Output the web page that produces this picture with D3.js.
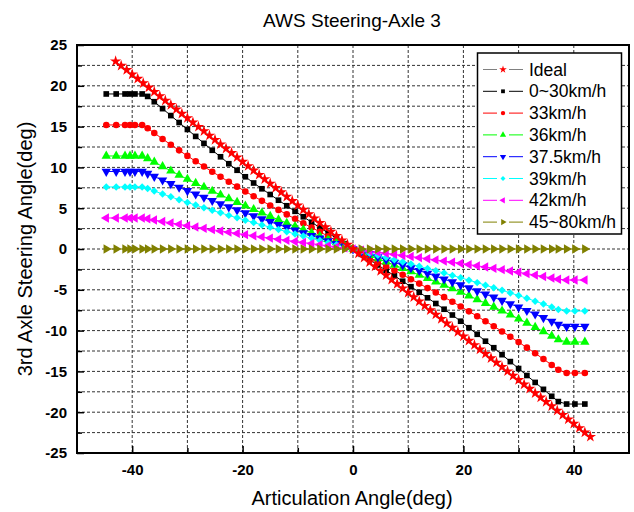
<!DOCTYPE html>
<html>
<head>
<meta charset="utf-8">
<script src="https://cdnjs.cloudflare.com/ajax/libs/d3/7.8.5/d3.min.js"></script>
<style>
body{margin:0;background:#fff;}
svg{display:block;font-family:"Liberation Sans",Arial,sans-serif;}
</style>
</head>
<body>
<svg id="chart" width="634" height="512"></svg>
<script>
// articulation angle (deg) for the speed runs
var angle = [-44.7,-42.9,-41.3,-40.4,-39.5,-38.2,-37.2,-36,-34.5,-33,-31.5,-30,-28.5,-27,-25.5,-24,-22.5,-21,-19.5,-18,-16.5,-15,-13.5,-12,-10.5,-9,-7.5,-6,-4.5,-3,-1.5,
	0,1.5,3,4.5,6,7.5,9,10.5,12,13.5,15,16.5,18,19.5,21,22.5,24,25.5,27,28.5,30,31.5,33,34.5,36,37.2,38.7,40.2,42];

var idealAngle = [-43,-42,-41,-40,-39,-38,-37,-36,-35,-34,-33,-32,-31,-30,-29,-28,-27,-26,-25,-24,-23,-22,-21,-20,-19,-18,-17,-16,-15,-14,-13,-12,-11,-10,-9,-8,-7,-6,-5,-4,-3,-2,-1,
	0,1,2,3,4,5,6,7,8,9,10,11,12,13,14,15,16,17,18,19,20,21,22,23,24,25,26,27,28,29,30,31,32,33,34,35,36,37,38,39,40,41,42,43];

var ideal = [23.01,22.47,21.94,21.40,20.87,20.33,19.80,19.26,18.73,18.19,17.66,17.12,16.59,16.05,15.52,14.98,14.45,13.91,13.38,12.84,12.31,11.77,11.24,10.70,10.17,9.63,9.10,8.56,8.03,7.49,6.96,6.42,5.89,5.35,4.82,4.28,3.75,3.21,2.68,2.14,1.61,1.07,0.54,
	0,-0.54,-1.07,-1.61,-2.14,-2.68,-3.21,-3.75,-4.28,-4.82,-5.35,-5.89,-6.42,-6.96,-7.49,-8.03,-8.56,-9.10,-9.63,-10.17,-10.70,-11.24,-11.77,-12.31,-12.84,-13.38,-13.91,-14.45,-14.98,-15.52,-16.05,-16.59,-17.12,-17.66,-18.19,-18.73,-19.26,-19.80,-20.33,-20.87,-21.40,-21.94,-22.47,-23.01];

var speed0_30 = [19,19,19,19,19,19,18.70,18.05,17.20,16.35,15.50,14.65,13.80,12.95,12.10,11.30,10.45,9.65,8.85,8.09,7.38,6.68,5.98,5.30,4.62,3.95,3.28,2.62,1.96,1.31,0.65,
	0,-0.65,-1.31,-1.96,-2.62,-3.28,-3.95,-4.62,-5.30,-5.98,-6.68,-7.38,-8.09,-8.85,-9.65,-10.45,-11.30,-12.10,-12.95,-13.80,-14.65,-15.50,-16.35,-17.20,-18.05,-18.70,-19,-19,-19];

var speed33 = [15.2,15.2,15.2,15.2,15.2,15.2,14.80,14.21,13.49,12.78,12.09,11.41,10.75,10.10,9.47,8.85,8.24,7.64,7.05,6.47,5.90,5.34,4.79,4.24,3.70,3.16,2.63,2.10,1.57,1.04,0.52,
	0,-0.52,-1.04,-1.57,-2.10,-2.63,-3.16,-3.70,-4.24,-4.79,-5.34,-5.90,-6.47,-7.05,-7.64,-8.24,-8.85,-9.47,-10.10,-10.75,-11.41,-12.09,-12.78,-13.49,-14.21,-14.80,-15.2,-15.2,-15.2];

var speed36 = [11.4,11.4,11.4,11.4,11.4,11.4,11.10,10.66,10.11,9.58,9.06,8.56,8.06,7.58,7.10,6.64,6.18,5.73,5.29,4.86,4.43,4.01,3.59,3.18,2.77,2.37,1.97,1.57,1.18,0.78,0.39,
	0,-0.39,-0.78,-1.18,-1.57,-1.97,-2.37,-2.77,-3.18,-3.59,-4.01,-4.43,-4.86,-5.29,-5.73,-6.18,-6.64,-7.10,-7.58,-8.06,-8.56,-9.06,-9.58,-10.11,-10.66,-11.10,-11.4,-11.4,-11.4];

var speed37_5 = [9.5,9.5,9.5,9.5,9.5,9.5,9.25,8.88,8.43,7.99,7.55,7.13,6.72,6.32,5.92,5.53,5.15,4.78,4.41,4.05,3.69,3.34,2.99,2.65,2.31,1.97,1.64,1.31,0.98,0.65,0.33,
	0,-0.33,-0.65,-0.98,-1.31,-1.64,-1.97,-2.31,-2.65,-2.99,-3.34,-3.69,-4.05,-4.41,-4.78,-5.15,-5.53,-5.92,-6.32,-6.72,-7.13,-7.55,-7.99,-8.43,-8.88,-9.25,-9.5,-9.5,-9.5];

var speed39 = [7.6,7.6,7.6,7.6,7.6,7.6,7.40,7.11,6.74,6.39,6.04,5.71,5.38,5.05,4.74,4.43,4.12,3.82,3.53,3.24,2.95,2.67,2.39,2.12,1.85,1.58,1.31,1.05,0.78,0.52,0.26,
	0,-0.26,-0.52,-0.78,-1.05,-1.31,-1.58,-1.85,-2.12,-2.39,-2.67,-2.95,-3.24,-3.53,-3.82,-4.12,-4.43,-4.74,-5.05,-5.38,-5.71,-6.04,-6.39,-6.74,-7.11,-7.40,-7.6,-7.6,-7.6];

var speed42 = [3.8,3.8,3.8,3.8,3.8,3.8,3.70,3.55,3.37,3.20,3.02,2.85,2.69,2.53,2.37,2.21,2.06,1.91,1.76,1.62,1.48,1.34,1.20,1.06,0.92,0.79,0.66,0.52,0.39,0.26,0.13,
	0,-0.13,-0.26,-0.39,-0.52,-0.66,-0.79,-0.92,-1.06,-1.20,-1.34,-1.48,-1.62,-1.76,-1.91,-2.06,-2.21,-2.37,-2.53,-2.69,-2.85,-3.02,-3.20,-3.37,-3.55,-3.70,-3.8,-3.8,-3.8];

var speed45_80 = [0,0,0,0,0,0,0,0,0,0,0,0,0,0,0,0,0,0,0,0,0,0,0,0,0,0,0,0,0,0,0,
	0,0,0,0,0,0,0,0,0,0,0,0,0,0,0,0,0,0,0,0,0,0,0,0,0,0,0,0,0];

var seriesNames = ["Ideal","0~30km/h","33km/h","36km/h","37.5km/h","39km/h","42km/h","45~80km/h"];
var xTicks = [-40,-20,0,20,40];
var xMinor = [-30,-10,10,30];
var xGrid = [-40,-30,-20,-10,0,10,20,30,40];
var yTicks = [-25,-20,-15,-10,-5,0,5,10,15,20,25];
var yMinor = [-22.5,-17.5,-12.5,-7.5,-2.5,2.5,7.5,12.5,17.5,22.5];
var yGrid = [-22.5,-20,-17.5,-15,-12.5,-10,-7.5,-5,-2.5,0,2.5,5,7.5,10,12.5,15,17.5,20,22.5];

var series = [
	{name:seriesNames[0], x:idealAngle, y:ideal, color:"#ff0000", line:"#808080", type:d3.symbolStar, size:40, rot:0},
	{name:seriesNames[1], x:angle, y:speed0_30, color:"#000000", line:"#000000", type:d3.symbolSquare, size:32, rot:0},
	{name:seriesNames[2], x:angle, y:speed33, color:"#ff0000", line:"#ff0000", type:d3.symbolCircle, size:34, rot:0},
	{name:seriesNames[3], x:angle, y:speed36, color:"#00ff00", line:"#00ff00", type:d3.symbolTriangle, size:38, rot:0},
	{name:seriesNames[4], x:angle, y:speed37_5, color:"#0000ff", line:"#0000ff", type:d3.symbolTriangle, size:38, rot:180},
	{name:seriesNames[5], x:angle, y:speed39, color:"#00ffff", line:"#00ffff", type:d3.symbolSquare, size:28, rot:45},
	{name:seriesNames[6], x:angle, y:speed42, color:"#ff00ff", line:"#ff00ff", type:d3.symbolTriangle, size:38, rot:-90},
	{name:seriesNames[7], x:angle, y:speed45_80, color:"#808000", line:"#808000", type:d3.symbolTriangle, size:38, rot:90}
];

var plotLeft = 77, plotRight = 629, plotTop = 45, plotBottom = 453;

var svg = d3.select("#chart");

var xscale = d3.scaleLinear()
				.domain([-50,50])
				.range([plotLeft,plotRight]);

var yscale = d3.scaleLinear()
				.domain([-25,25])
				.range([plotBottom,plotTop]);

// dashed grid
svg.append("g")
	.selectAll("line")
	.data(xGrid)
	.enter().append("line")
		.attr("x1", function(d){return xscale(d);})
		.attr("x2", function(d){return xscale(d);})
		.attr("y1", plotTop)
		.attr("y2", plotBottom)
		.attr("stroke", "#333")
		.attr("stroke-dasharray", "3,2");

svg.append("g")
	.selectAll("line")
	.data(yGrid)
	.enter().append("line")
		.attr("x1", plotLeft)
		.attr("x2", plotRight)
		.attr("y1", function(d){return yscale(d);})
		.attr("y2", function(d){return yscale(d);})
		.attr("stroke", "#333")
		.attr("stroke-dasharray", "3,2");

// axes, ticks pointing inward
var xaxis = d3.axisBottom(xscale)
				.tickValues(xTicks)
				.tickSizeInner(-7)
				.tickSizeOuter(0)
				.tickPadding(11)
				.tickFormat(function(d){return String(d);});

var xaxisMinor = d3.axisBottom(xscale)
				.tickValues(xMinor)
				.tickSizeInner(-5)
				.tickSizeOuter(0)
				.tickFormat("");

var yaxis = d3.axisLeft(yscale)
				.tickValues(yTicks)
				.tickSizeInner(-7)
				.tickSizeOuter(0)
				.tickPadding(10)
				.tickFormat(function(d){return String(d);});

var yaxisMinor = d3.axisLeft(yscale)
				.tickValues(yMinor)
				.tickSizeInner(-5)
				.tickSizeOuter(0)
				.tickFormat("");

[[xaxis,"translate(0,"+plotBottom+")"],[xaxisMinor,"translate(0,"+plotBottom+")"],[yaxis,"translate("+plotLeft+",0)"],[yaxisMinor,"translate("+plotLeft+",0)"]].forEach(function(a){
	var g = svg.append("g")
		.attr("transform", a[1])
		.call(a[0]);
	g.select(".domain").remove();
	g.selectAll("line").attr("stroke", "#000").attr("stroke-width", 1.5);
	g.selectAll("text")
		.attr("font-family", "Liberation Sans, Arial, sans-serif")
		.attr("font-size", "15px")
		.attr("font-weight", "bold")
		.attr("fill", "#000");
});

// series lines + markers
var line = d3.line()
			.x(function(d){return xscale(d[0]);})
			.y(function(d){return yscale(d[1]);});

series.forEach(function(s){
	var pts = s.x.map(function(v,i){return [v, s.y[i]];});
	svg.append("path")
		.attr("d", line(pts))
		.attr("fill", "none")
		.attr("stroke", s.line)
		.attr("stroke-width", 1);
});

series.slice(1).concat([series[0]]).forEach(function(s){
	var pts = s.x.map(function(v,i){return [v, s.y[i]];});
	svg.append("g")
		.selectAll("path")
		.data(pts)
		.enter().append("path")
			.attr("d", d3.symbol().type(s.type).size(s.size))
			.attr("transform", function(d){return "translate("+xscale(d[0])+","+yscale(d[1])+") rotate("+s.rot+")";})
			.attr("fill", s.color);
});

// frame
svg.append("rect")
	.attr("x", plotLeft)
	.attr("y", plotTop)
	.attr("width", plotRight-plotLeft)
	.attr("height", plotBottom-plotTop)
	.attr("fill", "none")
	.attr("stroke", "#000")
	.attr("stroke-width", 2);

// legend
var legend = svg.append("g");
legend.append("rect")
	.attr("x", 477.5)
	.attr("y", 53)
	.attr("width", 144)
	.attr("height", 181)
	.attr("fill", "#fff")
	.attr("stroke", "#000")
	.attr("stroke-width", 1.5);

var entry = legend.selectAll("g.entry")
				.data(series)
				.enter().append("g")
					.attr("class", "entry")
					.attr("transform", function(d,i){return "translate(0,"+(69.5+i*21.8)+")";});

entry.append("line")
	.attr("x1", 483).attr("x2", 497)
	.attr("stroke", function(d){return d.line;});
entry.append("line")
	.attr("x1", 509).attr("x2", 523)
	.attr("stroke", function(d){return d.line;});
entry.append("path")
	.attr("d", function(d){return d3.symbol().type(d.type).size(d.size*0.45)();})
	.attr("transform", function(d){return "translate(503,0) rotate("+d.rot+")";})
	.attr("fill", function(d){return d.color;});
entry.append("text")
	.attr("x", 529)
	.attr("y", 6)
	.attr("font-size", "17.5px")
	.attr("fill", "#000")
	.text(function(d){return d.name;});

// titles
svg.append("text")
	.attr("x", 352)
	.attr("y", 27)
	.attr("text-anchor", "middle")
	.attr("font-size", "19px")
	.text("AWS Steering-Axle 3");

svg.append("text")
	.attr("x", 352)
	.attr("y", 505)
	.attr("text-anchor", "middle")
	.attr("font-size", "20px")
	.text("Articulation Angle(deg)");

svg.append("text")
	.attr("transform", "translate(32,249) rotate(-90)")
	.attr("text-anchor", "middle")
	.attr("font-size", "20px")
	.text("3rd Axle Steering Angle(deg)");
</script>
</body>
</html>
